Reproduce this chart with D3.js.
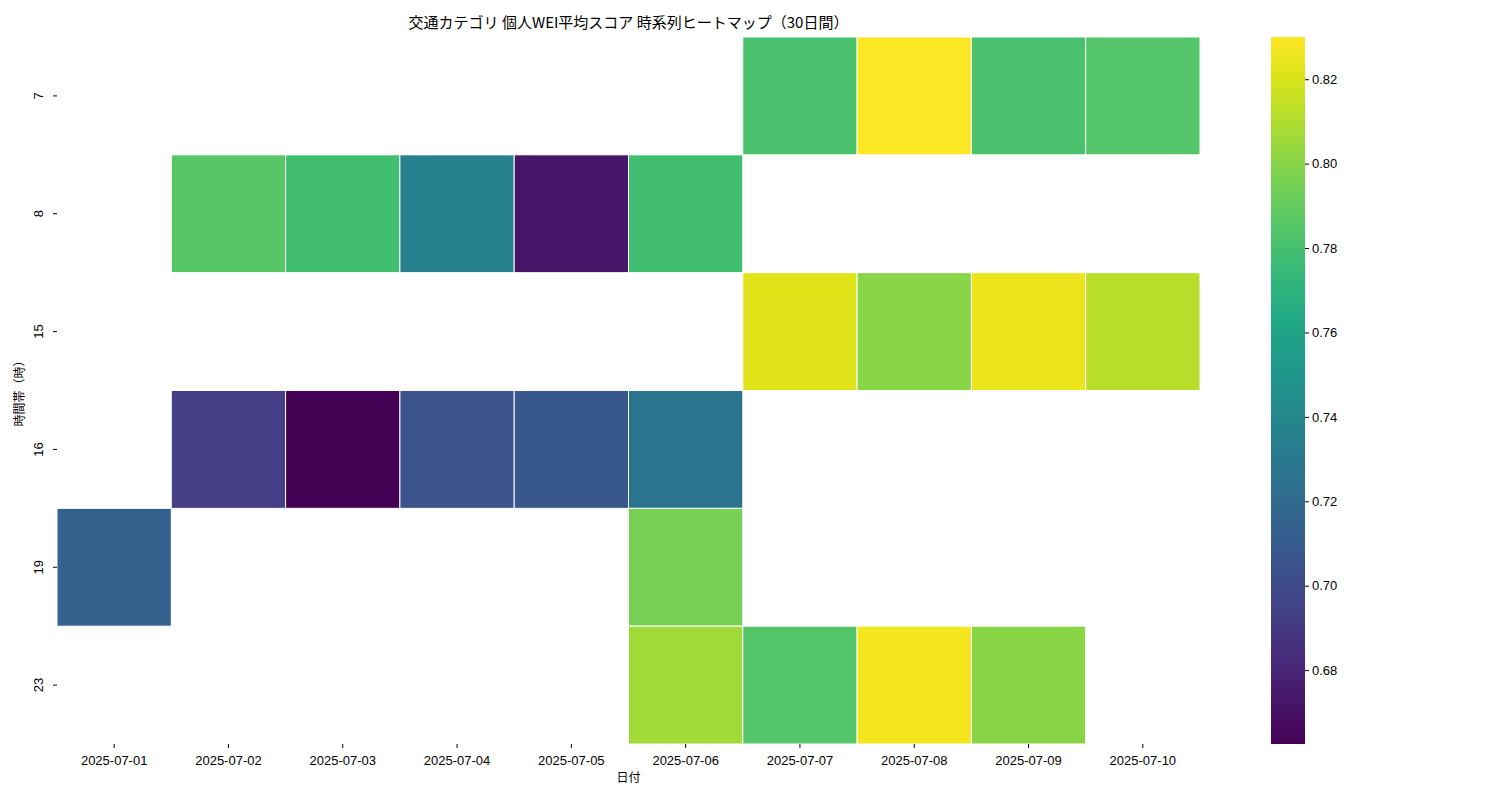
<!DOCTYPE html>
<html><head><meta charset="utf-8">
<script src="https://cdn.jsdelivr.net/npm/d3@7"></script>
<style>body{margin:0;background:#fff;font-family:"Noto Sans CJK JP","DejaVu Sans",sans-serif}</style>
</head><body><svg id="c" width="1500" height="800"></svg>
<script>
const dates=["2025-07-01","2025-07-02","2025-07-03","2025-07-04","2025-07-05","2025-07-06","2025-07-07","2025-07-08","2025-07-09","2025-07-10"];
const hours=["7","8","15","16","19","23"];
const cells=[
["7","2025-07-07",0.782],["7","2025-07-08",0.829],["7","2025-07-09",0.782],["7","2025-07-10",0.785],
["8","2025-07-02",0.786],["8","2025-07-03",0.779],["8","2025-07-04",0.735],["8","2025-07-05",0.672],["8","2025-07-06",0.779],
["15","2025-07-07",0.822],["15","2025-07-08",0.800],["15","2025-07-09",0.825],["15","2025-07-10",0.812],
["16","2025-07-02",0.693],["16","2025-07-03",0.6625],["16","2025-07-04",0.705],["16","2025-07-05",0.708],["16","2025-07-06",0.727],
["19","2025-07-01",0.714],["19","2025-07-06",0.795],
["23","2025-07-06",0.806],["23","2025-07-07",0.785],["23","2025-07-08",0.827],["23","2025-07-09",0.800]];
const cbTicks=[0.68,0.70,0.72,0.74,0.76,0.78,0.80,0.82];
const vmin=0.6625,vmax=0.830;
const svg=d3.select("#c");
const L=57,R=1200,T=37,B=744;
const x=d3.scaleBand().domain(dates).range([L,R]);
const y=d3.scaleBand().domain(hours).range([T,B]);
const col=d3.scaleSequential(d3.interpolateViridis).domain([vmin,vmax]);
svg.selectAll("rect.c").data(cells).enter().append("rect")
 .attr("x",d=>x(d[1])).attr("y",d=>y(d[0])).attr("width",x.bandwidth()).attr("height",y.bandwidth())
 .attr("fill",d=>col(d[2])).attr("stroke","#fff").attr("stroke-width",1);
const fs=13;
const xa=svg.append("g").attr("transform",`translate(0,${B})`).call(d3.axisBottom(x).tickSize(4));
xa.select(".domain").remove();
xa.selectAll("text").attr("font-size",fs).attr("fill","#000").attr("dy","1.1em");
const ya=svg.append("g").attr("transform",`translate(${L},0)`).call(d3.axisLeft(y).tickSize(4));
ya.select(".domain").remove();
ya.selectAll("text").attr("font-size",fs).attr("fill","#000")
 .attr("transform",function(d){return `rotate(-90,-10,0)`}).attr("x",-10).attr("dx",0).attr("dy","-0.3em").attr("text-anchor","middle");
svg.append("text").attr("x",(L+R)/2).attr("y",28).attr("text-anchor","middle").attr("font-size",15).text("交通カテゴリ 個人WEI平均スコア 時系列ヒートマップ（30日間）");
svg.append("text").attr("x",(L+R)/2).attr("y",782).attr("text-anchor","middle").attr("font-size",12).text("日付");
svg.append("text").attr("transform",`translate(24,${(T+B)/2}) rotate(-90)`).attr("text-anchor","middle").attr("font-size",12).text("時間帯（時）");
// colorbar
const cx=1271,cw=34;
const defs=svg.append("defs");
const g=defs.append("linearGradient").attr("id","g").attr("x1",0).attr("y1",1).attr("x2",0).attr("y2",0);
d3.range(0,1.001,0.05).forEach(t=>g.append("stop").attr("offset",t).attr("stop-color",d3.interpolateViridis(t)));
svg.append("rect").attr("x",cx).attr("y",T).attr("width",cw).attr("height",B-T).attr("fill","url(#g)");
const cy=d3.scaleLinear().domain([vmin,vmax]).range([B,T]);
const ca=svg.append("g").attr("transform",`translate(${cx+cw},0)`).call(d3.axisRight(cy).tickValues(cbTicks).tickFormat(d3.format(".2f")).tickSize(4));
ca.select(".domain").remove();
ca.selectAll("text").attr("font-size",fs).attr("fill","#000");
</script></body></html>
